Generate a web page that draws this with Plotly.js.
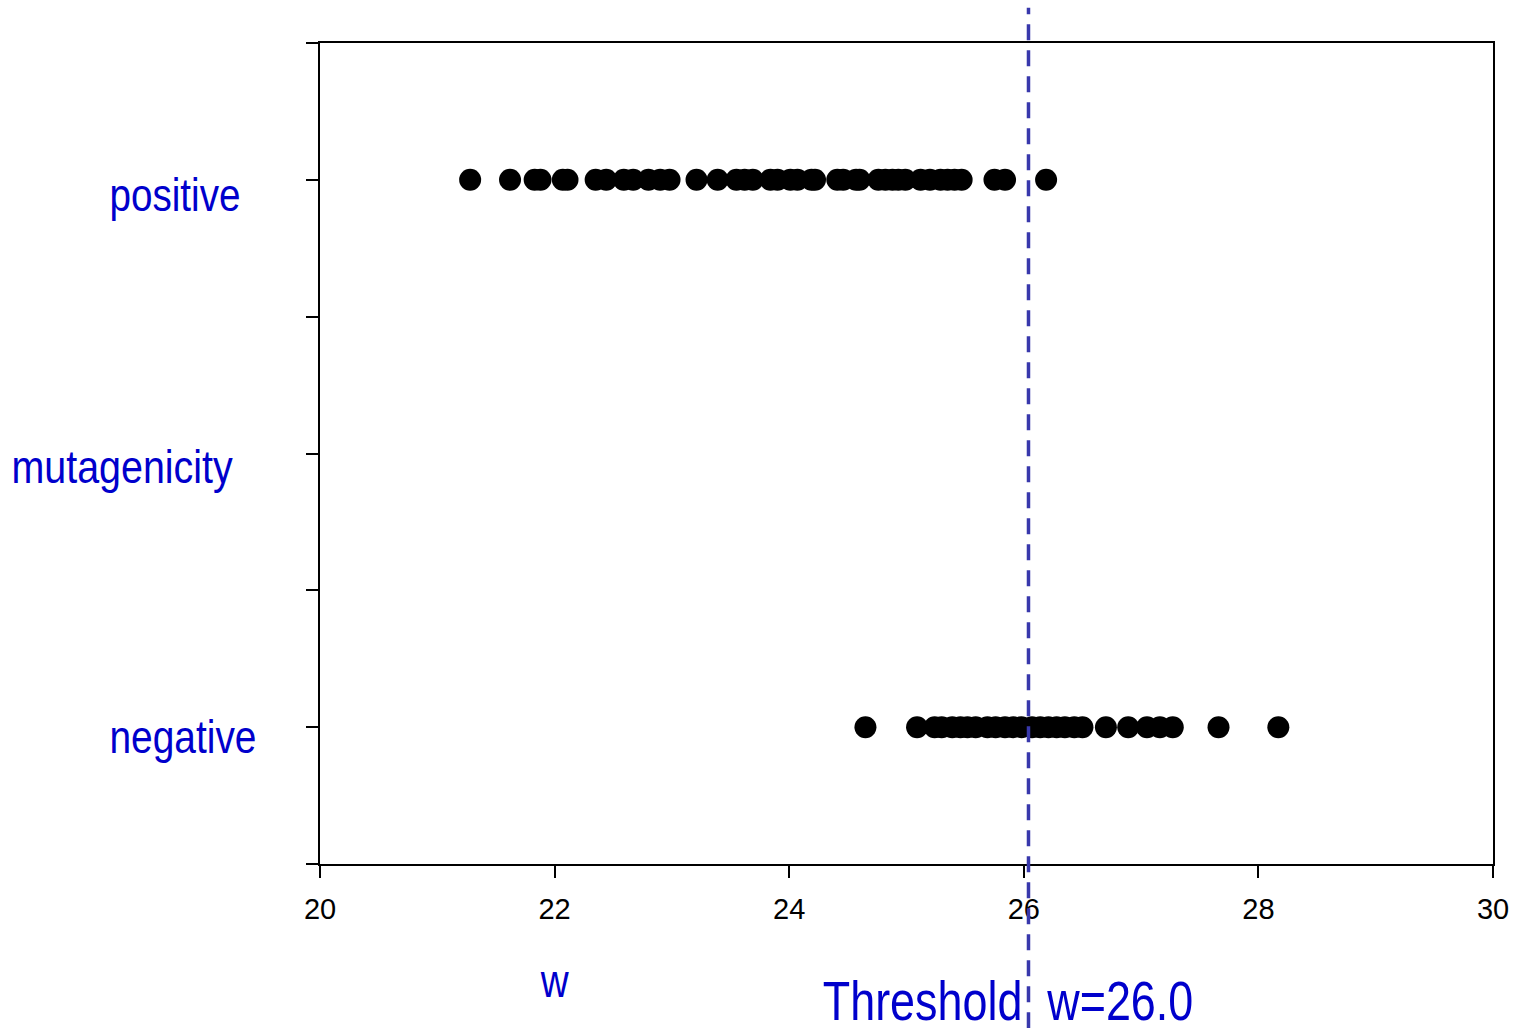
<!DOCTYPE html>
<html>
<head>
<meta charset="utf-8">
<script src="https://cdn.plot.ly/plotly-3.0.1.min.js"></script>
<style>html,body{margin:0;padding:0;background:#fff;}#chart{width:1516px;height:1028px;}</style>
</head>
<body>
<div id="chart"></div>
<script>
// Category rows
const categories = ["positive", "negative"];
const categoryY = [5, 1];
// w values for mutagenicity = positive
const positiveW = [21.28, 21.62, 21.83, 21.88, 22.07, 22.11, 22.35, 22.44, 22.59, 22.67,
  22.80, 22.90, 22.98, 23.21, 23.39, 23.55, 23.62, 23.69, 23.84, 23.90,
  24.01, 24.07, 24.19, 24.22, 24.41, 24.46, 24.57, 24.60, 24.76, 24.82,
  24.88, 24.93, 24.99, 25.12, 25.20, 25.29, 25.35, 25.41, 25.47, 25.75,
  25.84, 26.19];
// w values for mutagenicity = negative
const negativeW = [24.65, 25.09, 25.24, 25.30, 25.39, 25.46, 25.52, 25.59, 25.69, 25.76,
  25.84, 25.91, 25.98, 26.07, 26.14, 26.21, 26.28, 26.35, 26.43, 26.50,
  26.70, 26.89, 27.05, 27.16, 27.27, 27.66, 28.17];
const threshold = 26.04;
const thresholdLabel = "Threshold  w=26.0";
const xTickVals = [20, 22, 24, 26, 28, 30];
const xTickText = ["20", "22", "24", "26", "28", "30"];
const yTickVals = [0, 1, 2, 3, 4, 5, 6];
const xTitle = "w";
const yTitle = "mutagenicity";

const narrow = "Liberation Sans Narrow, Arial Narrow, Liberation Sans, Arial, sans-serif";
const labelFont = {family: narrow, size: 46, color: "#0000CC"};

const traces = [
  {x: positiveW, y: positiveW.map(() => categoryY[0]), type: "scatter", mode: "markers",
   marker: {color: "#000000", size: 22}, hoverinfo: "x", showlegend: false, cliponaxis: false},
  {x: negativeW, y: negativeW.map(() => categoryY[1]), type: "scatter", mode: "markers",
   marker: {color: "#000000", size: 22}, hoverinfo: "x", showlegend: false, cliponaxis: false}
];

const layout = {
  width: 1516, height: 1028,
  margin: {l: 320, r: 23, t: 43, b: 164, pad: 0},
  paper_bgcolor: "#ffffff", plot_bgcolor: "#ffffff",
  showlegend: false,
  xaxis: {
    range: [20, 30], tickvals: xTickVals, ticktext: xTickText,
    ticks: "outside", ticklen: 12, tickwidth: 2, tickcolor: "#000",
    ticklabelstandoff: 6,
    showline: true, linecolor: "#000", linewidth: 2, mirror: true,
    showgrid: false, zeroline: false,
    tickfont: {family: "Liberation Sans, Arial, sans-serif", size: 29, color: "#000"}
  },
  yaxis: {
    range: [0, 6], tickvals: yTickVals, showticklabels: false,
    ticks: "outside", ticklen: 12, tickwidth: 2, tickcolor: "#000",
    showline: true, linecolor: "#000", linewidth: 2, mirror: true,
    showgrid: false, zeroline: false
  },
  shapes: [{
    type: "line", xref: "x", yref: "paper",
    x0: threshold, x1: threshold, y0: -0.2, y1: 1.043,
    line: {color: "#3838AC", width: 3.5, dash: "16px,10px"}
  }],
  annotations: [
    {text: categories[0], xref: "paper", yref: "y", x: -0.1236, y: categoryY[0] - 0.11,
     xanchor: "center", yanchor: "middle", showarrow: false, font: labelFont},
    {text: categories[1], xref: "paper", yref: "y", x: -0.1168, y: categoryY[1] - 0.07,
     xanchor: "center", yanchor: "middle", showarrow: false, font: labelFont},
    {text: yTitle, xref: "paper", yref: "y", x: -0.1684, y: 2.9,
     xanchor: "center", yanchor: "middle", showarrow: false, font: labelFont},
    {text: xTitle, xref: "x", yref: "paper", x: 22.0, y: -0.142,
     xanchor: "center", yanchor: "middle", showarrow: false, font: labelFont},
    {text: thresholdLabel, xref: "x", yref: "paper", x: 25.865, y: -0.167,
     xanchor: "center", yanchor: "middle", showarrow: false,
     font: {family: narrow, size: 55, color: "#0000CC"}}
  ]
};

// horizontal condensing of the label glyphs to imitate the narrow typeface of the reference
const squeeze = [0.84, 0.845, 0.857, 0.84, 0.816];

Plotly.newPlot("chart", traces, layout, {displayModeBar: false, staticPlot: true}).then(function () {
  const texts = document.querySelectorAll("#chart .annotation-text");
  texts.forEach(function (t, i) {
    const w = t.getComputedTextLength();
    const f = squeeze[i] || 0.84;
    t.setAttribute("textLength", (w * f).toFixed(1));
    t.setAttribute("lengthAdjust", "spacingAndGlyphs");
  });
});
</script>
</body>
</html>
